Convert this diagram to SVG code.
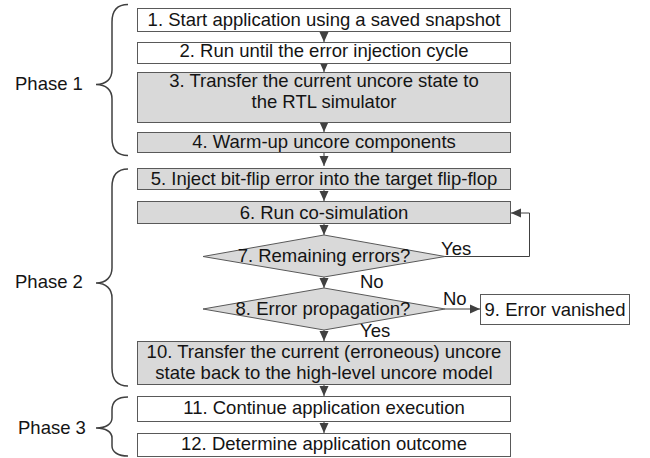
<svg xmlns="http://www.w3.org/2000/svg" width="650" height="458" viewBox="0 0 650 458">
<style>
.b{stroke:#595959;stroke-width:1;fill:#fff}
.g{fill:#d9d9d9}
.t{font-family:"Liberation Sans",Arial,sans-serif;font-size:18.5px;fill:#141414;text-anchor:middle}
.l{font-family:"Liberation Sans",Arial,sans-serif;font-size:18.5px;fill:#141414}
.c{stroke:#404040;stroke-width:1;fill:none}
.br{stroke:#404040;stroke-width:1.5;fill:none}
</style>
<defs>
<marker id="ah" viewBox="0 0 10 10" refX="10" refY="5" markerWidth="10" markerHeight="10" markerUnits="userSpaceOnUse" orient="auto"><path d="M0,0.5 L10,5 L0,9.5z" fill="#404040"/></marker>
</defs>
<g id="phases">
<path class="br" d="M128,4.5 C117,4.5 112,10 112,22 L112,70 C112,79 106,84.5 96,84.5 C106,84.5 112,90 112,99 L112,138 C112,150 117,155.5 128,155.5"/>
<text class="l" x="15" y="90">Phase 1</text>
<path class="br" d="M128,169 C117,169 112,175 112,187 L112,268 C112,277 106,283 96,283 C106,283 112,289 112,298 L112,368 C112,380 117,386 128,386"/>
<text class="l" x="15" y="288">Phase 2</text>
<path class="br" d="M128,397 C118,397 112,401 112,410 L112,418 C112,424 106,428 96,428 C106,428 112,432 112,438 L112,446 C112,452 118,456 128,456"/>
<text class="l" x="18" y="434">Phase 3</text>
</g>
<g id="connectors">
<line class="c" x1="324" y1="32" x2="324" y2="42" marker-end="url(#ah)"/>
<line class="c" x1="324" y1="63" x2="324" y2="72" marker-end="url(#ah)"/>
<line class="c" x1="324" y1="123" x2="324" y2="132" marker-end="url(#ah)"/>
<line class="c" x1="324" y1="152" x2="324" y2="166" marker-end="url(#ah)"/>
<line class="c" x1="324" y1="189" x2="324" y2="201" marker-end="url(#ah)"/>
<line class="c" x1="324" y1="224" x2="324" y2="235" marker-end="url(#ah)"/>
<line class="c" x1="324" y1="277" x2="324" y2="288" marker-end="url(#ah)"/>
<line class="c" x1="324" y1="330" x2="324" y2="341" marker-end="url(#ah)"/>
<line class="c" x1="324" y1="385" x2="324" y2="396" marker-end="url(#ah)"/>
<line class="c" x1="324" y1="422" x2="324" y2="433" marker-end="url(#ah)"/>
<line class="c" x1="445" y1="309" x2="480" y2="309" marker-end="url(#ah)"/>
<polyline class="c" points="445,256.5 529.5,256.5 529.5,213 511,213" marker-end="url(#ah)"/>
<text class="l" x="441" y="255">Yes</text>
<text class="l" x="360" y="288">No</text>
<text class="l" x="443" y="305">No</text>
<text class="l" x="360" y="337">Yes</text>
</g>
<g id="n1"><rect class="b" x="137.5" y="8.5" width="373" height="23"/><text class="t" x="324" y="25.5">1. Start application using a saved snapshot</text></g>
<g id="n2"><rect class="b" x="137.5" y="42.5" width="373" height="21"/><text class="t" x="324" y="57">2. Run until the error injection cycle</text></g>
<g id="n3"><rect class="b g" x="137.5" y="72.5" width="373" height="50"/><text class="t" x="324" y="87">3. Transfer the current uncore state to</text><text class="t" x="324" y="108">the RTL simulator</text></g>
<g id="n4"><rect class="b g" x="137.5" y="132.5" width="373" height="20"/><text class="t" x="324" y="148">4. Warm-up uncore components</text></g>
<g id="n5"><rect class="b g" x="137.5" y="168.5" width="373" height="21"/><text class="t" x="324" y="184.5">5. Inject bit-flip error into the target flip-flop</text></g>
<g id="n6"><rect class="b g" x="137.5" y="201.5" width="373" height="22"/><text class="t" x="324" y="218.5">6. Run co-simulation</text></g>
<g id="n7"><polygon class="b g" points="203,256.5 324,235 445,256.5 324,277"/><text class="t" x="324" y="262">7. Remaining errors?</text></g>
<g id="n8"><polygon class="b g" points="203,309 324,288 445,309 324,330"/><text class="t" x="323" y="315">8. Error propagation?</text></g>
<g id="n9"><rect class="b" x="480.5" y="294.5" width="149" height="30"/><text class="t" x="555" y="315.5">9. Error vanished</text></g>
<g id="n10"><rect class="b g" x="137.5" y="341.5" width="373" height="43"/><text class="t" x="324" y="357.5">10. Transfer the current (erroneous) uncore</text><text class="t" x="324" y="378.5">state back to the high-level uncore model</text></g>
<g id="n11"><rect class="b" x="137.5" y="396.5" width="373" height="25"/><text class="t" x="324" y="413.5">11. Continue application execution</text></g>
<g id="n12"><rect class="b" x="137.5" y="433.5" width="373" height="23"/><text class="t" x="324" y="450">12. Determine application outcome</text></g>
</svg>
